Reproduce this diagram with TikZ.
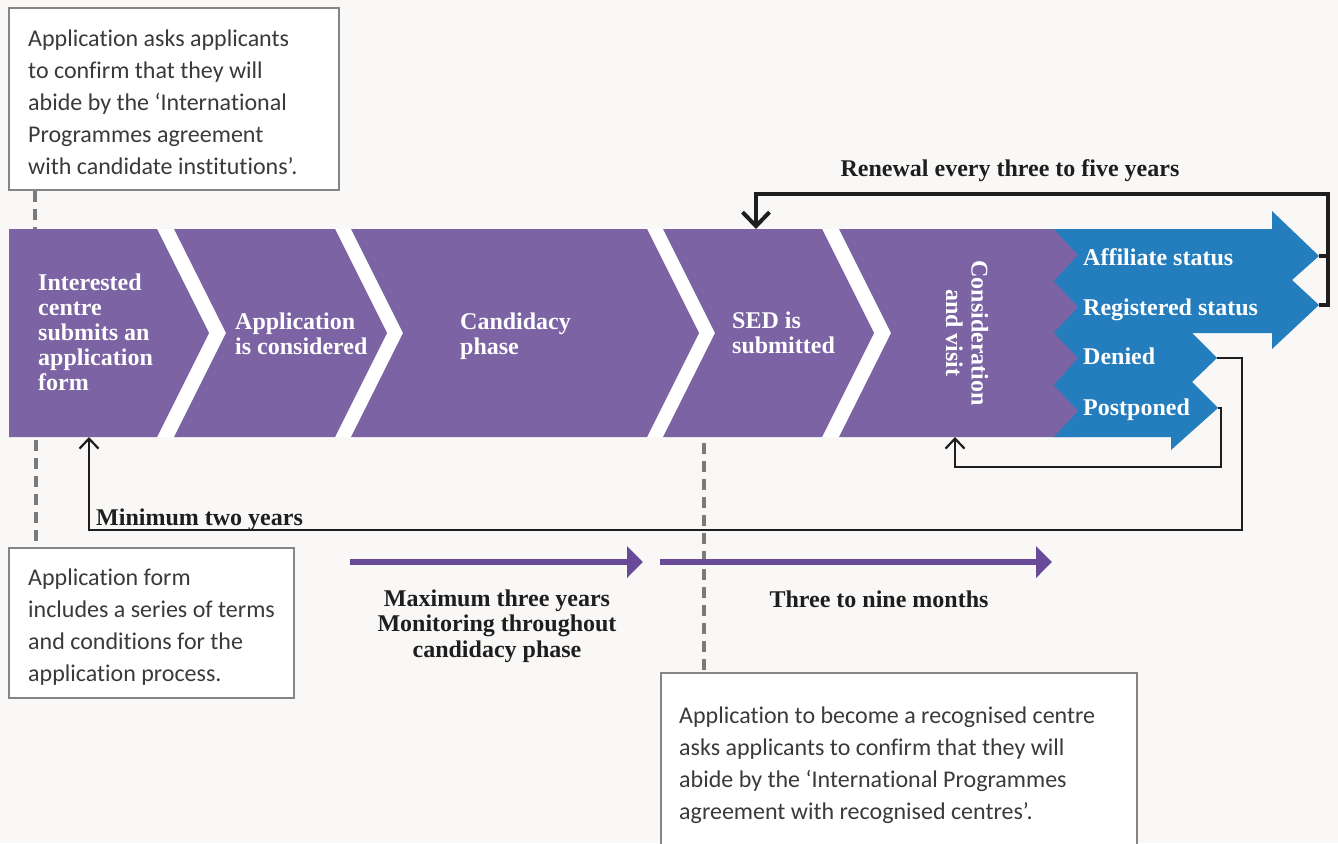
\documentclass[tikz,border=0pt]{standalone}
\usepackage{fontspec}
\setmainfont{Liberation Serif}
\newfontfamily\bodyfont{Carlito}[Ligatures={NoCommon}]
\usetikzlibrary{arrows.meta}
\definecolor{bgc}{HTML}{F9F8F6}
\definecolor{purp}{HTML}{7B63A4}
\definecolor{blu}{HTML}{247DBD}
\definecolor{dpurp}{HTML}{684A99}
\definecolor{boxgray}{HTML}{858585}
\definecolor{guidegray}{HTML}{7A7A7A}
\definecolor{txtgray}{HTML}{3A3A3A}
\definecolor{ink}{HTML}{1E1E1E}
\begin{document}
\begin{tikzpicture}[x=1pt,y=-1pt,
  chev/.style={fill=purp},
  wtxt/.style={text=white,font=\bfseries\fontsize{24}{25}\selectfont,align=left,inner sep=0pt,anchor=north west},
  wlab/.style={text=white,font=\bfseries\fontsize{24}{25}\selectfont,inner sep=0pt,anchor=base west},
  btxt/.style={text=ink,font=\bfseries\fontsize{24}{25.5}\selectfont,inner sep=0pt},
  note/.style={draw=boxgray,line width=2pt,fill=white},
  notetxt/.style={text=txtgray,font=\bodyfont\fontsize{24}{32}\selectfont,align=left,inner sep=0pt,anchor=north west},
  guide/.style={draw=guidegray,line width=3.4pt,dash pattern=on 11pt off 7pt},
  thinlink/.style={draw=ink,line width=2.2pt,-{Straight Barb[length=10pt,width=19pt]}},
  renew/.style={draw=ink,line width=4pt},
  span/.style={draw=dpurp,line width=6pt,-{Triangle[length=16pt,width=31pt]}},
]
\fill[bgc] (0,0) rectangle (1338,843);
\useasboundingbox (0,0) rectangle (1338,843);

% guides
\draw[guide] (35,191) -- (35,229);
\draw[guide] (36,440) -- (36,548);
\draw[guide] (704,443) -- (704,672);

% note boxes
\draw[note] (9,8) rectangle (339,190);
\node[notetxt] (n1) at (28,29.3) {Application asks applicants\\to confirm that they will\\abide by the ‘International\\Programmes agreement\\with candidate institutions’.};
\draw[note] (9,548) rectangle (294,698);
\node[notetxt] (n2) at (28,568.3) {Application form\\includes a series of terms\\and conditions for the\\application process.};
\fill[white] (661,673) rectangle (1137,850);
\draw[note] (661,850) -- (661,673) -- (1137,673) -- (1137,850);
\node[notetxt] (n3) at (679,706.3) {Application to become a recognised centre\\asks applicants to confirm that they will\\abide by the ‘International Programmes\\agreement with recognised centres’.};

% band
\fill[white] (150,229) rectangle (900,437);
\fill[chev] (9,229) -- (157,229) -- (209,333) -- (157,437) -- (9,437) -- cycle;
\fill[chev] (174,229) -- (335,229) -- (387,333) -- (335,437) -- (174,437) -- (226,333) -- cycle;
\fill[chev] (351,229) -- (647,229) -- (699,333) -- (647,437) -- (351,437) -- (403,333) -- cycle;
\fill[chev] (663,229) -- (822,229) -- (874,333) -- (822,437) -- (663,437) -- (715,333) -- cycle;
\fill[chev] (839,229) -- (1078,229) -- (1078,437) -- (839,437) -- (891,333) -- cycle;
\fill[blu] (1054,229) -- (1272,229) -- (1272,211) -- (1319,256) -- (1292,280) -- (1319,305)
  -- (1272,349) -- (1272,333) -- (1192,333) -- (1217,358) -- (1192,382) -- (1218,408)
  -- (1171,450) -- (1171,437) -- (1054,437) -- (1078,411) -- (1054,385) -- (1078,358)
  -- (1054,333) -- (1078,307) -- (1054,281) -- (1078,255) -- cycle;

% chevron texts
\node[wtxt] (s1) at (38,273.6) {Interested\\centre\\submits an\\application\\form};
\node[wtxt] (s2) at (235,312.6) {Application\\is considered};
\node[wtxt] (s3) at (460,312.6) {Candidacy\\phase};
\node[wtxt] (s4) at (732,311.6) {SED is\\submitted};
\node[text=white,font=\bfseries\fontsize{24}{25.5}\selectfont,align=center,inner sep=0pt,rotate=-90] (s5) at (967,333) {Consideration\\and visit};
\node[wlab] (o1) at (1083,265) {Affiliate status};
\node[wlab] (o2) at (1083,315) {Registered status};
\node[wlab] (o3) at (1083,364) {Denied};
\node[wlab] (o4) at (1083,415) {Postponed};

% connectors
\coordinate (afftip) at (1319,256);
\coordinate (regtip) at (1319,305);
\coordinate (dentip) at (1217,358);
\coordinate (postip) at (1218,408);
\coordinate (rentop) at (1328,194);
\coordinate (sedtop) at (756,229);
\coordinate (denR) at (1242,530);
\coordinate (ictop) at (89,437);
\coordinate (posR) at (1221,467);
\coordinate (cvbot) at (955,437);
\draw[renew] (afftip) -- (afftip -| rentop);
\draw[renew,-{Straight Barb[length=14pt,width=27pt]}] (regtip) -| (rentop) -| (sedtop);
\draw[thinlink] (dentip) -| (denR) -| (ictop);
\draw[thinlink] (postip) -| (posR) -| (cvbot);

\node[btxt,anchor=base] (lren) at (1010,176) {Renewal every three to five years};
\node[btxt,anchor=base west] (lmin) at (96,525) {Minimum two years};

% spans
\coordinate (m1a) at (350,562);
\coordinate (m1b) at (643,562);
\coordinate (m2a) at (660,562);
\coordinate (m2b) at (1052,562);
\draw[span] (m1a) -- (m1b);
\draw[span] (m2a) -- (m2b);
\node[btxt,align=center,anchor=north] (lmax) at (497,589.6) {Maximum three years\\Monitoring throughout\\candidacy phase};
\node[btxt,anchor=base] (lthree) at (879,607) {Three to nine months};
\end{tikzpicture}
\end{document}
